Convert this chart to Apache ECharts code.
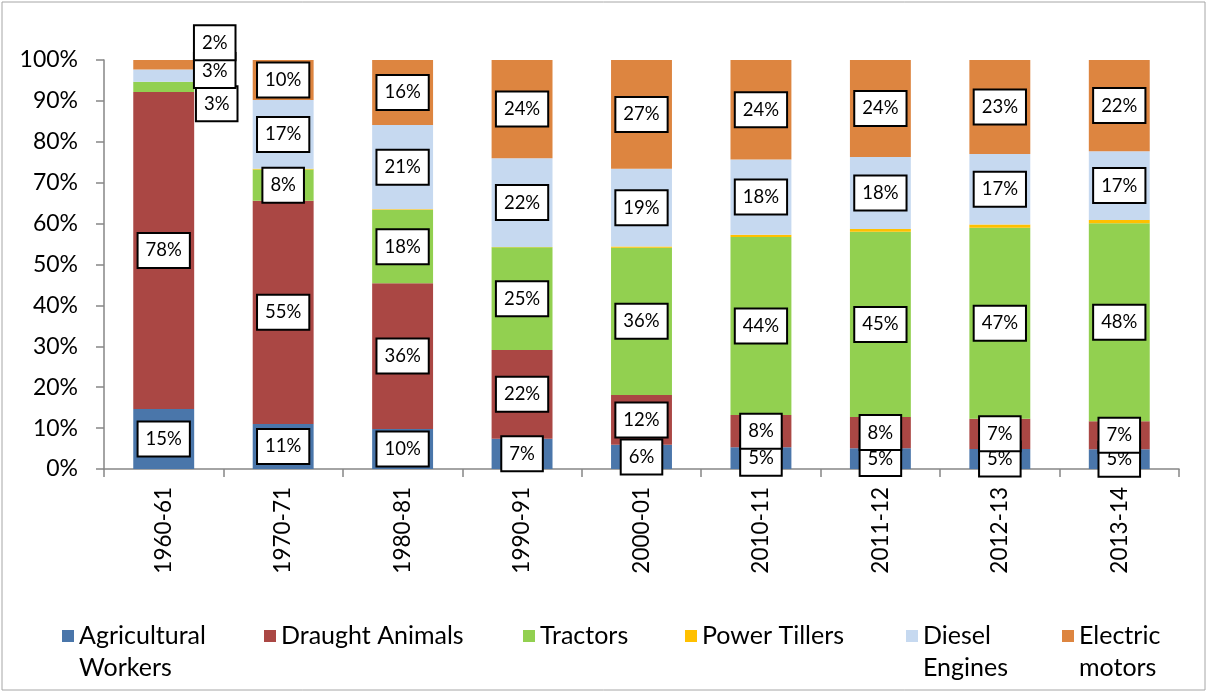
<!DOCTYPE html>
<html>
<head>
<meta charset="utf-8">
<script src="https://cdn.jsdelivr.net/npm/echarts@6/dist/echarts.min.js"></script>
<style>html,body{margin:0;padding:0;background:#fff;}#c{width:1208px;height:693px;}</style>
</head>
<body>
<div id="c"></div>
<script>
const categories = ['1960-61','1970-71','1980-81','1990-91','2000-01','2010-11','2011-12','2012-13','2013-14'];
const agriculturalWorkers = [14.7, 11.0, 9.8, 7.4, 5.9, 5.3, 5.1, 4.9, 4.8];
const draughtAnimals     = [77.5, 54.6, 35.6, 21.7, 12.2, 7.9, 7.6, 7.4, 6.9];
const tractors           = [2.5, 7.6, 17.9, 25.1, 36.0, 43.5, 45.3, 46.7, 48.4];
const powerTillers       = [0.0, 0.2, 0.2, 0.1, 0.3, 0.6, 0.7, 0.8, 0.8];
const dieselEngines      = [3.0, 16.8, 20.6, 21.7, 19.0, 18.4, 17.6, 17.2, 16.8];
const electricMotors     = [2.3, 9.8, 15.9, 24.0, 26.6, 24.3, 23.7, 23.0, 22.3];
const yTicks = [0,10,20,30,40,50,60,70,80,90,100];

const FONT = 'Lato';
const colors = ['#4a76aa','#aa4744','#92d050','#ffc000','#c6d9f0','#dd8540'];

const labelStyle = {
  show: true, position: 'inside', fontFamily: FONT, fontSize: 18.5, color: '#000',
  backgroundColor: '#fff', borderColor: '#000', borderWidth: 2, padding: [8,7,6,7],
  formatter: p => Math.round(p.value) + '%'
};

// manual offsets of the small labels on the first bar
const firstBarOffsets = {2: [53, 17], 4: [51, -5], 5: [51, -22]};

function mkData(arr, sIdx) {
  return arr.map((v, i) => {
    if (i === 0 && firstBarOffsets[sIdx]) {
      return {value: v, label: {offset: firstBarOffsets[sIdx]}};
    }
    return v;
  });
}

const names = ['Agricultural Workers','Draught Animals','Tractors','Power Tillers','Diesel Engines','Electric motors'];
const seriesData = [agriculturalWorkers, draughtAnimals, tractors, powerTillers, dieselEngines, electricMotors];

const series = seriesData.map((arr, k) => ({
  name: names[k], type: 'bar', stack: 'total', barWidth: '51%',
  itemStyle: {color: colors[k]},
  label: k === 3 ? {show: false} : labelStyle,
  emphasis: {disabled: true},
  data: mkData(arr, k)
}));

// multi-line names get an empty first line so the real first line sits beside the icon
const legendText = ['\u00a0\nAgricultural\nWorkers','Draught Animals','Tractors','Power Tillers','\u00a0\nDiesel\nEngines','\u00a0\nElectric\nmotors'];
const legendX = [62, 264, 523, 685, 906, 1062];
const legends = names.map((n, k) => {
  const multi = legendText[k].indexOf('\n') >= 0;
  return {
    left: legendX[k], top: multi ? 588 : 620, padding: 0,
    itemWidth: 12, itemHeight: 12, icon: 'rect', selectedMode: false,
    formatter: () => legendText[k],
    textStyle: {fontFamily: FONT, fontSize: 25, color: '#000', lineHeight: 32},
    data: [n]
  };
});

const chart = echarts.init(document.getElementById('c'), null, {renderer: 'canvas'});
chart.setOption({
  animation: false,
  backgroundColor: '#fff',
  graphic: [{type: 'rect', shape: {x: 2, y: 2, width: 1203, height: 688}, style: {fill: 'none', stroke: '#a6a6a6', lineWidth: 1}}],
  legend: legends,
  grid: {left: 104, right: 29, top: 60, bottom: 224, containLabel: false},
  xAxis: {
    type: 'category', data: categories,
    axisLine: {lineStyle: {color: '#868686', width: 1.5}},
    axisTick: {show: true, length: 8, alignWithLabel: false, lineStyle: {color: '#868686', width: 1.5}},
    axisLabel: {rotate: 90, margin: 18, fontFamily: FONT, fontSize: 22.5, color: '#000'}
  },
  yAxis: {
    type: 'value', min: 0, max: 100, interval: 10,
    axisLine: {show: true, lineStyle: {color: '#868686', width: 1.5}},
    axisTick: {show: true, length: 8, lineStyle: {color: '#868686', width: 1.5}},
    splitLine: {show: false},
    axisLabel: {margin: 26, fontFamily: FONT, fontSize: 23, color: '#000',
      formatter: v => yTicks.indexOf(v) >= 0 ? v + '%' : ''}
  },
  series: series
});
</script>
</body>
</html>
